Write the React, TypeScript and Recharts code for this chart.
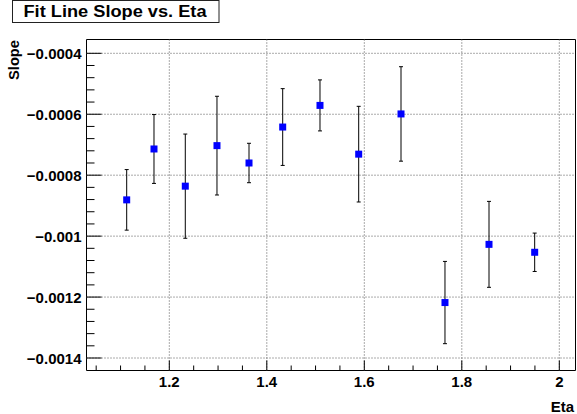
import React from "react";
import {
  ScatterChart,
  Scatter,
  XAxis,
  YAxis,
  ErrorBar,
  ReferenceLine,
  ReferenceArea,
} from "recharts";

// Fit line slope per eta bin
const etaValues = [1.1126, 1.1686, 1.2328, 1.2978, 1.3635, 1.4326, 1.5091, 1.5885, 1.6753, 1.7655, 1.8558, 1.9495];
const slopeValues = [-0.000881, -0.000714, -0.000836, -0.000703, -0.00076, -0.000642, -0.000571, -0.000731, -0.000599, -0.001218, -0.001027, -0.001053];
const slopeErrors = [0.0000994, 0.000113, 0.000171, 0.000162, 0.0000647, 0.000126, 0.0000837, 0.000157, 0.000155, 0.000135, 0.000141, 0.000063];

const xMajorTicks = [1.2, 1.4, 1.6, 1.8, 2];
const xTickLabels = ["1.2", "1.4", "1.6", "1.8", "2"];
const xMinorTicks = [1.05, 1.1, 1.15, 1.25, 1.3, 1.35, 1.45, 1.5, 1.55, 1.65, 1.7, 1.75, 1.85, 1.9, 1.95];

const yMajorTicks = [-0.0004, -0.0006, -0.0008, -0.001, -0.0012, -0.0014];
const yTickLabels = ["\u22120.0004", "\u22120.0006", "\u22120.0008", "\u22120.001", "\u22120.0012", "\u22120.0014"];
const yMinorTicks = [
  -0.00044, -0.00048, -0.00052, -0.00056,
  -0.00064, -0.00068, -0.00072, -0.00076,
  -0.00084, -0.00088, -0.00092, -0.00096,
  -0.00104, -0.00108, -0.00112, -0.00116,
  -0.00124, -0.00128, -0.00132, -0.00136,
];

const X_DOMAIN: [number, number] = [1.03015, 2.03323];
const Y_DOMAIN: [number, number] = [-0.001441, -0.0003547];

const FONT = "'Liberation Sans', Arial, Helvetica, sans-serif";

const data = etaValues.map((eta, i) => ({
  eta,
  slope: slopeValues[i],
  err: slopeErrors[i],
}));

const findIdx = (arr: number[], v: number) => arr.findIndex((m) => Math.abs(m - v) < 1e-9);

// ROOT style ticks: drawn inward from the axis
const YTick = (props: any) => {
  const { x, y, payload } = props;
  const idx = findIdx(yMajorTicks, payload.value);
  const axisX = x + 5;
  return (
    <g>
      <line x1={axisX} x2={axisX + (idx >= 0 ? 15 : 8)} y1={y} y2={y} stroke="#000" strokeWidth={1} />
      {idx >= 0 && (
        <text x={x} y={y + 6} textAnchor="end" fontFamily={FONT} fontWeight="bold" fontSize={15} fill="#000">
          {yTickLabels[idx]}
        </text>
      )}
    </g>
  );
};

const XTick = (props: any) => {
  const { x, y, payload } = props;
  const idx = findIdx(xMajorTicks, payload.value);
  const axisY = y - 5;
  return (
    <g>
      <line x1={x} x2={x} y1={axisY} y2={axisY - (idx >= 0 ? 10 : 5)} stroke="#000" strokeWidth={1} />
      {idx >= 0 && (
        <text x={x} y={axisY + 16} textAnchor="middle" fontFamily={FONT} fontWeight="bold" fontSize={15} fill="#000">
          {xTickLabels[idx]}
        </text>
      )}
    </g>
  );
};

const Marker = (p: any) => <rect x={p.cx - 3.5} y={p.cy - 3.5} width={7} height={7} fill="#0000ff" />;

export default function App() {
  return (
    <div style={{ position: "absolute", left: 0, top: 0, width: 577, height: 414, background: "#fff" }}>
      <ScatterChart width={577} height={414} margin={{ top: 39.5, right: 1.5, bottom: 0, left: 6.5 }}>
        <XAxis
          type="number"
          dataKey="eta"
          domain={X_DOMAIN}
          ticks={[...xMajorTicks, ...xMinorTicks]}
          interval={0}
          allowDataOverflow
          axisLine={false}
          tickLine={false}
          tickSize={0}
          tickMargin={5}
          height={43.5}
          tick={<XTick />}
        />
        <YAxis
          type="number"
          dataKey="slope"
          domain={Y_DOMAIN}
          ticks={[...yMajorTicks, ...yMinorTicks]}
          interval={0}
          allowDataOverflow
          axisLine={false}
          tickLine={false}
          tickSize={0}
          tickMargin={5}
          width={80}
          tick={<YTick />}
        />
        {xMajorTicks.map((v) => (
          <ReferenceLine key={`gx-${v}`} x={v} stroke="#555" strokeDasharray="1 2" strokeWidth={1} />
        ))}
        {yMajorTicks.map((v) => (
          <ReferenceLine key={`gy-${v}`} y={v} stroke="#555" strokeDasharray="1 2" strokeWidth={1} />
        ))}
        <ReferenceArea
          x1={X_DOMAIN[0]}
          x2={X_DOMAIN[1]}
          y1={Y_DOMAIN[0]}
          y2={Y_DOMAIN[1]}
          fill="none"
          fillOpacity={0}
          stroke="#000"
          strokeWidth={1}
          strokeOpacity={1}
        />
        <Scatter data={data} dataKey="slope" shape={<Marker />} isAnimationActive={false}>
          <ErrorBar dataKey="err" direction="y" width={2} stroke="#000" strokeWidth={1} isAnimationActive={false} />
        </Scatter>
      </ScatterChart>
      <svg width={577} height={414} style={{ position: "absolute", left: 0, top: 0, pointerEvents: "none" }}>
        <rect x={12.5} y={0.5} width={206.5} height={22} fill="#fff" stroke="#222" strokeWidth={1} />
        <text x={23.5} y={16.7} fontFamily={FONT} fontWeight="bold" fontSize={16} fill="#000" textLength={183} lengthAdjust="spacingAndGlyphs">
          Fit Line Slope vs. Eta
        </text>
        <text
          transform="translate(19,40) rotate(-90)"
          textAnchor="end"
          fontFamily={FONT}
          fontWeight="bold"
          fontSize={14}
          fill="#000"
          textLength={40}
          lengthAdjust="spacingAndGlyphs"
        >
          Slope
        </text>
        <text x={574} y={411.5} textAnchor="end" fontFamily={FONT} fontWeight="bold" fontSize={15} fill="#000">
          Eta
        </text>
      </svg>
    </div>
  );
}
